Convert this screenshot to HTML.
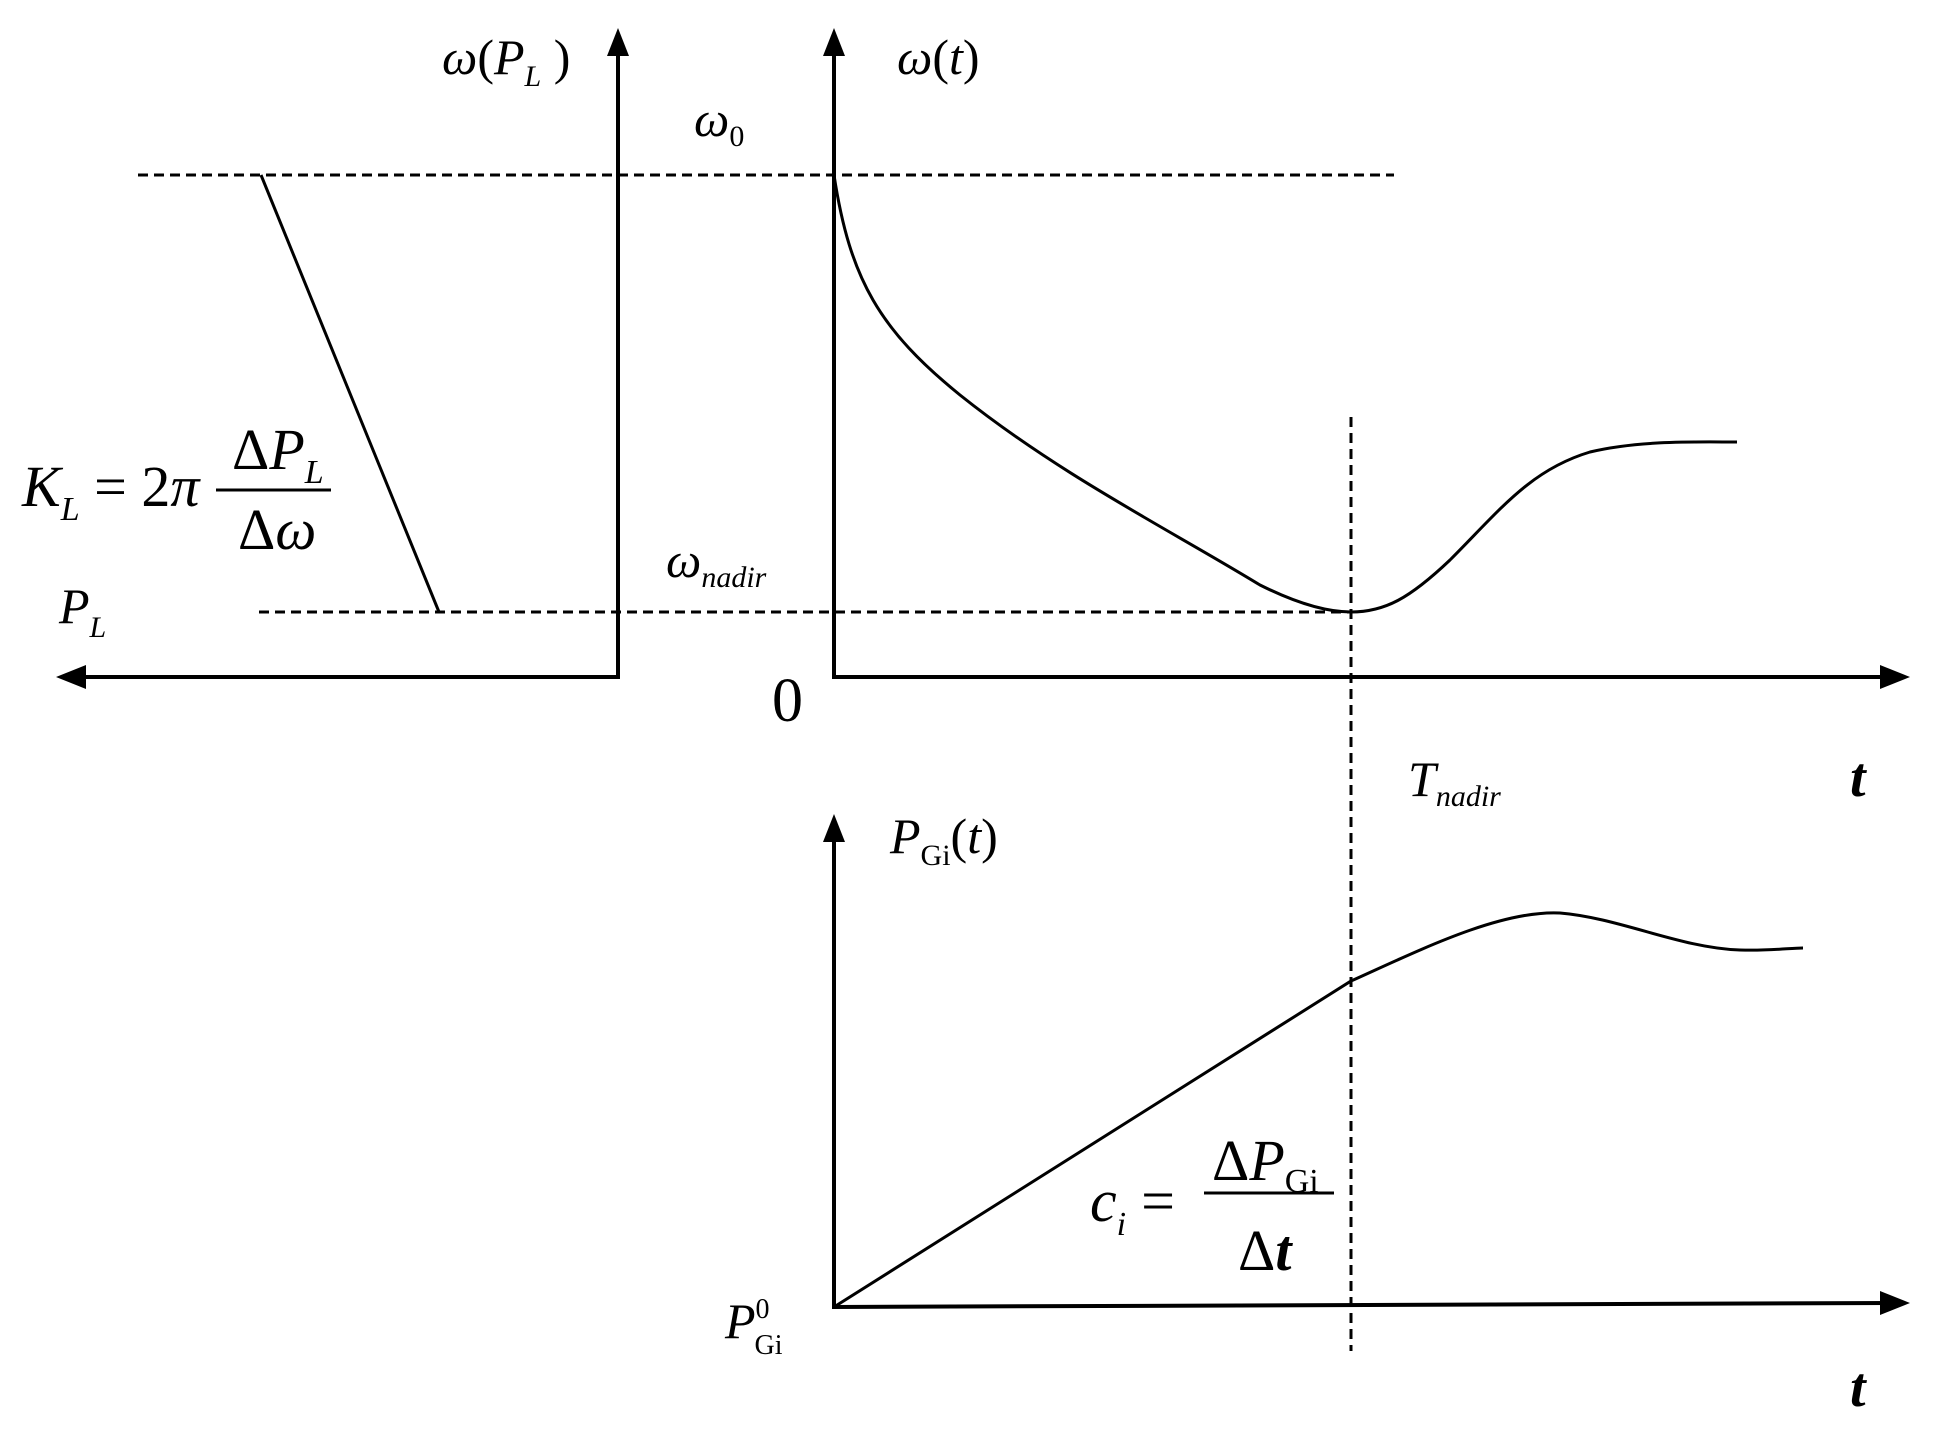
<!DOCTYPE html>
<html><head><meta charset="utf-8"><style>html,body{margin:0;padding:0;background:#fff}svg{display:block}text{font-family:"Liberation Serif",serif;font-style:italic;fill:#000}.u{font-style:normal}</style></head>
<body>
<svg width="1934" height="1444" viewBox="0 0 1934 1444" xmlns="http://www.w3.org/2000/svg">
<g stroke="#000" fill="none" stroke-width="4">
<polyline points="618,45 618,677 72,677"/>
<polygon points="618,28 607,56 629,56" fill="#000" stroke="none"/>
<polygon points="56,677 86,665 86,689" fill="#000" stroke="none"/>
<polyline points="834,45 834,677 1892,677"/>
<polygon points="834,28 823,56 845,56" fill="#000" stroke="none"/>
<polygon points="1910,677 1880,665 1880,689" fill="#000" stroke="none"/>
<g stroke-width="3" stroke-dasharray="10,6">
<line x1="138" y1="175" x2="1394" y2="175"/>
<line x1="259" y1="612" x2="1351" y2="612"/>
<line x1="1351" y1="417" x2="1351" y2="1351"/>
</g>
<line x1="261" y1="175" x2="439" y2="612" stroke-width="3"/>
<path d="M834,175 C850,280 880,330 960,395 C1060,475 1170,530 1260,585 C1300,605 1330,612 1351,612 C1385,612 1410,598 1450,560 C1500,510 1530,470 1590,452 C1640,440 1700,442 1737,442" stroke-width="3"/>
<polyline points="834,832 834,1307 1892,1303"/>
<polygon points="834,814 823,842 845,842" fill="#000" stroke="none"/>
<polygon points="1910,1303 1880,1291 1880,1315" fill="#000" stroke="none"/>
<path d="M834,1307 L1351,981 C1420,950 1500,910 1560,913 C1620,918 1680,948 1740,950 C1770,951 1790,948 1803,948" stroke-width="3"/>
<line x1="216" y1="490" x2="331" y2="490" stroke-width="3"/>
<line x1="1204" y1="1193" x2="1334" y2="1193" stroke-width="3"/>
</g>
<text x="442" y="74" font-size="50">ω<tspan class="u">(</tspan>P<tspan font-size="30" dy="12">L</tspan><tspan dy="-12" class="u"> )</tspan></text>
<text x="897" y="74" font-size="50">ω<tspan class="u">(</tspan>t<tspan class="u">)</tspan></text>
<text x="694" y="136" font-size="50">ω<tspan font-size="30" dy="10" class="u">0</tspan></text>
<text x="22" y="506" font-size="58">K<tspan font-size="34" dy="14">L</tspan><tspan dy="-14" class="u"> = 2</tspan>π</text>
<text x="232" y="469" font-size="58"><tspan class="u">Δ</tspan>P<tspan font-size="34" dy="14">L</tspan></text>
<text x="238" y="549" font-size="58"><tspan class="u">Δ</tspan>ω</text>
<text x="666" y="577" font-size="50">ω<tspan font-size="30" dy="10">nadir</tspan></text>
<text x="59" y="623" font-size="50">P<tspan font-size="30" dy="14">L</tspan></text>
<text x="772" y="721" font-size="62" class="u">0</text>
<text x="1850" y="796" font-size="56" font-weight="bold">t</text>
<text x="1408" y="796" font-size="50">T<tspan font-size="30" dy="10">nadir</tspan></text>
<text x="890" y="853" font-size="50">P<tspan font-size="30" dy="12" class="u">Gi</tspan><tspan dy="-12" class="u">(</tspan>t<tspan class="u">)</tspan></text>
<text x="1090" y="1221" font-size="60">c<tspan font-size="34" dy="14">i</tspan><tspan dy="-14" class="u"> =</tspan></text>
<text x="1212" y="1180" font-size="58"><tspan class="u">Δ</tspan>P<tspan font-size="34" dy="12" class="u">Gi</tspan></text>
<text x="1238" y="1270" font-size="58"><tspan class="u">Δ</tspan><tspan font-weight="bold">t</tspan></text>
<text x="725" y="1338" font-size="50">P<tspan font-size="28" dy="-20" class="u">0</tspan><tspan font-size="28" dx="-15" dy="36" class="u">Gi</tspan></text>
<text x="1850" y="1406" font-size="56" font-weight="bold">t</text>
</svg>
</body></html>
